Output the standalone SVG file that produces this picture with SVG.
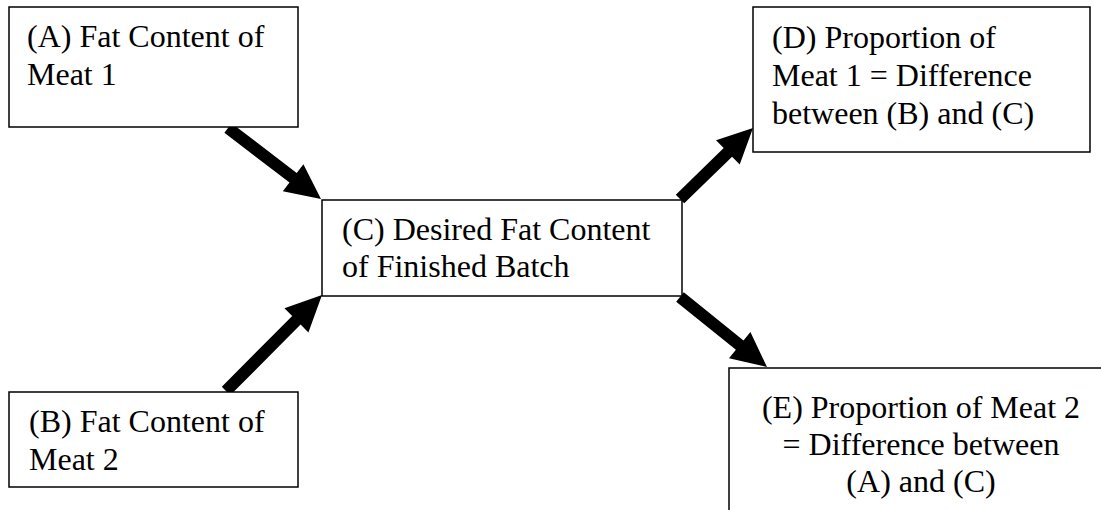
<svg xmlns="http://www.w3.org/2000/svg" width="1101" height="510" viewBox="0 0 1101 510">
<style>
.box{fill:#fff;stroke:#000;stroke-width:1.5}
.t{font-family:"Liberation Serif","Times New Roman",serif;font-size:32px;fill:#000}
.c{text-anchor:middle}
.arr{fill:#000;stroke:none}
</style>
<rect width="1101" height="510" fill="#fff"/>
<g id="connectors">
<polygon class="arr" points="231.6,123.2 296.7,173.0 303.4,164.3 321,199 282.8,191.3 289.5,182.6 224.4,132.8"/>
<polygon class="arr" points="230.2,395.3 300.6,324.6 308.4,332.4 322,295 284.4,308.2 292.2,316.0 221.8,386.7"/>
<polygon class="arr" points="684.2,203.3 732.1,156.7 739.7,164.6 753,128 716.0,140.2 723.7,148.1 675.8,194.7"/>
<polygon class="arr" points="683.8,292.3 743.5,340.4 750.4,331.9 767,367 729.0,358.3 735.9,349.8 676.2,301.7"/>
</g>
<g id="nodeA">
<rect class="box" x="9" y="7" width="289" height="120"/>
<text class="t" x="27" y="47">(A) Fat Content of</text>
<text class="t" x="27" y="85">Meat 1</text>
</g>
<g id="nodeB">
<rect class="box" x="9" y="392" width="289" height="95"/>
<text class="t" x="29" y="432">(B) Fat Content of</text>
<text class="t" x="29" y="470">Meat 2</text>
</g>
<g id="nodeC">
<rect class="box" x="322" y="200" width="360" height="96"/>
<text class="t" x="342" y="240">(C) Desired Fat Content</text>
<text class="t" x="342" y="277">of Finished Batch</text>
</g>
<g id="nodeD">
<rect class="box" x="753" y="7" width="337" height="145"/>
<text class="t" x="772" y="48">(D) Proportion of</text>
<text class="t" x="772" y="86">Meat 1 = Difference</text>
<text class="t" x="772" y="124">between (B) and (C)</text>
</g>
<g id="nodeE">
<rect class="box" x="729" y="368" width="400" height="160"/>
<text class="t c" x="921" y="418">(E) Proportion of Meat 2</text>
<text class="t c" x="921" y="455">= Difference between</text>
<text class="t c" x="921" y="492">(A) and (C)</text>
</g>
</svg>
